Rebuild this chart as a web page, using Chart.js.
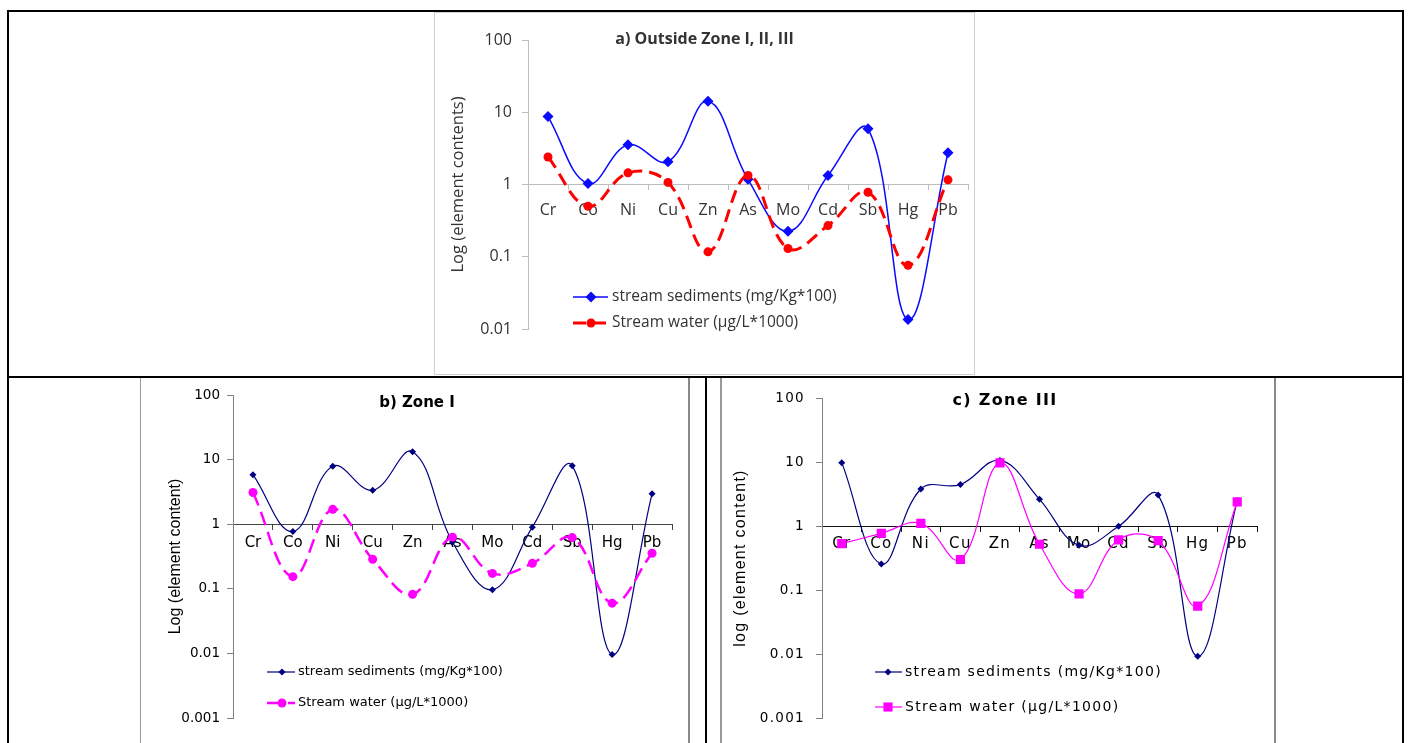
<!DOCTYPE html>
<html><head><meta charset="utf-8">
<script src="https://cdn.jsdelivr.net/npm/chart.js@4"></script>
<style>
body{margin:0;width:1410px;height:743px;position:relative;overflow:hidden;background:#fff;}
.ln{position:absolute;background:#000;}
.fr{position:absolute;box-sizing:border-box;}
canvas{position:absolute;}
</style></head><body>
<div class="ln" style="left:7px;top:10px;width:1397px;height:2px"></div>
<div class="ln" style="left:7px;top:376px;width:1397px;height:2px"></div>
<div class="ln" style="left:7px;top:10px;width:2px;height:733px"></div>
<div class="ln" style="left:1402px;top:10px;width:2px;height:733px"></div>
<div class="ln" style="left:705px;top:376px;width:2px;height:367px"></div>
<div class="fr" style="left:434px;top:12px;width:541px;height:363px;border:1px solid #d0d0d0"></div>
<div class="fr" style="left:140px;top:378px;width:550px;height:365px;border-left:1px solid #999;border-right:2px solid #888"></div>
<div class="fr" style="left:720px;top:378px;width:556px;height:365px;border-left:2px solid #999;border-right:2px solid #888"></div>
<canvas id="ca" width="539" height="361" style="left:435px;top:13px"></canvas>
<canvas id="cb" width="547" height="364" style="left:141px;top:379px"></canvas>
<canvas id="cc" width="552" height="364" style="left:722px;top:379px"></canvas>
<script>
// ---------- data ----------
const categories = ['Cr','Co','Ni','Cu','Zn','As','Mo','Cd','Sb','Hg','Pb'];
const seriesNames = ['stream sediments (mg/Kg*100)', 'Stream water (µg/L*1000)'];

const sedimentsA = [8.7, 1.03, 3.55, 2.07, 14.2, 1.18, 0.225, 1.33, 5.9, 0.0135, 2.75];
const waterA     = [2.4, 0.5, 1.45, 1.07, 0.117, 1.33, 0.13, 0.27, 0.78, 0.076, 1.16];

const sedimentsB = [5.85, 0.77, 7.9, 3.35, 13.2, 0.53, 0.097, 0.9, 8.0, 0.0096, 2.95];
const waterB     = [3.1, 0.154, 1.7, 0.287, 0.082, 0.63, 0.173, 0.248, 0.62, 0.06, 0.355];

const sedimentsC = [9.8, 0.255, 3.8, 4.45, 10.6, 2.62, 0.5, 0.99, 3.05, 0.0092, 2.5];
const waterC     = [0.53, 0.77, 1.1, 0.3, 9.7, 0.52, 0.087, 0.61, 0.59, 0.056, 2.38];

const yTicksA = [0.01, 0.1, 1, 10, 100];
const yTickLabelsA = ['0.01', '0.1', '1', '10', '100'];
const yTicksBC = [0.001, 0.01, 0.1, 1, 10, 100];
const yTickLabelsBC = ['0.001', '0.01', '0.1', '1', '10', '100'];

const titles = ['a) Outside Zone I, II, III', 'b) Zone I', 'c) Zone III'];
const yTitles = ['Log (element contents)', 'Log (element content)', 'log (element content)'];

// ---------- plugins ----------
function drawMarker(ctx, style, r, x, y, color) {
  ctx.fillStyle = color;
  ctx.beginPath();
  if (style === 'circle') {
    ctx.arc(x, y, r, 0, Math.PI * 2);
  } else if (style === 'rect') {
    const s = r * Math.SQRT1_2;
    ctx.rect(x - s, y - s, 2 * s, 2 * s);
  } else {
    ctx.moveTo(x, y - r); ctx.lineTo(x + r, y); ctx.lineTo(x, y + r); ctx.lineTo(x - r, y); ctx.closePath();
  }
  ctx.fill();
}
const inlineLegend = {
  id: 'inlineLegend',
  afterDatasetsDraw(chart, args, o) {
    const ctx = chart.ctx;
    ctx.save();
    chart.data.datasets.forEach((ds, i) => {
      const y = o.y[i];
      ctx.strokeStyle = ds.borderColor;
      ctx.lineWidth = ds.borderWidth;
      ctx.setLineDash(ds.borderDash || []);
      ctx.beginPath(); ctx.moveTo(o.x, y); ctx.lineTo(o.x + o.len, y); ctx.stroke();
      ctx.setLineDash([]);
      drawMarker(ctx, ds.pointStyle, ds.pointRadius, o.x + o.mark, y, ds.pointBackgroundColor);
      ctx.fillStyle = o.color;
      ctx.font = o.font;
      ctx.textAlign = 'left';
      ctx.textBaseline = 'middle';
      ctx.fillText(ds.label, o.x + o.len + o.gap, y);
    });
    ctx.restore();
  }
};
const spacing = {
  id: 'spacing',
  beforeDraw(chart, args, o) { if (o && o.value) chart.ctx.letterSpacing = o.value; }
};

function makeChart(id, c) {
  return new Chart(document.getElementById(id), {
    type: 'line',
    data: {
      labels: categories,
      datasets: [
        Object.assign({ label: seriesNames[0], data: c.sed, order: 1, tension: c.tension, fill: false }, c.sedStyle),
        Object.assign({ label: seriesNames[1], data: c.wat, order: 0, tension: c.tension, fill: false }, c.watStyle)
      ]
    },
    options: {
      responsive: false, animation: false, devicePixelRatio: 1,
      events: [],
      layout: { padding: { left: c.padL, right: c.padR, top: 0, bottom: c.padB } },
      plugins: {
        legend: { display: false },
        tooltip: { enabled: false },
        title: {
          display: true, text: c.title, color: c.textColor,
          font: Object.assign({ lineHeight: '2px' }, c.titleFont),
          padding: { top: c.titleTop, bottom: c.titleBottom }
        },
        inlineLegend: c.legend,
        spacing: { value: c.letterSpacing || '' }
      },
      scales: {
        x: {
          type: 'category', position: { y: 1 }, offset: true,
          grid: { offset: true, drawOnChartArea: false, drawTicks: true, tickLength: 5, color: c.xColor },
          border: { color: c.xColor, width: 1 },
          ticks: { autoSkip: false, maxRotation: 0, minRotation: 0, padding: c.xPad, font: c.xFont, color: c.textColor }
        },
        y: {
          type: 'logarithmic', min: c.yTicks[0], max: c.yTicks[c.yTicks.length - 1],
          afterFit: s => { s.width = c.yW; },
          afterBuildTicks: s => { s.ticks = c.yTicks.map(v => ({ value: v, major: true })); },
          grid: { drawOnChartArea: false, tickLength: 6, color: c.yColor },
          border: { color: c.yColor, width: 1 },
          ticks: {
            padding: c.yPad, font: c.yFont, color: c.textColor,
            callback: v => c.yLabels[c.yTicks.indexOf(v)]
          },
          title: { display: true, text: c.yTitle, color: c.textColor, font: c.yTitleFont, padding: { top: c.yTitlePad, bottom: 0 } }
        }
      }
    },
    plugins: [inlineLegend, spacing]
  });
}

// ---------- chart a ----------
makeChart('ca', {
  sed: sedimentsA, wat: waterA, tension: 0.4,
  sedStyle: { borderColor: '#0a0aff', backgroundColor: '#0a0aff', pointBackgroundColor: '#0a0aff', pointBorderColor: '#0a0aff', borderWidth: 1.5, pointStyle: 'rectRot', pointRadius: 5.5, pointBorderWidth: 0 },
  watStyle: { borderColor: '#ff0000', backgroundColor: '#ff0000', pointBackgroundColor: '#ff0000', pointBorderColor: '#ff0000', borderWidth: 3, borderDash: [13, 7], pointStyle: 'circle', pointRadius: 4.5, pointBorderWidth: 0 },
  padL: 6, padR: 6, padB: 45, yW: 87,
  title: titles[0], titleFont: { family: 'Open Sans', size: 16, weight: 'bold' }, titleTop: 25, titleBottom: 0,
  textColor: '#333333', xColor: '#bdbdbd', yColor: '#bdbdbd',
  xFont: { family: 'Open Sans', size: 16 }, xPad: 11,
  yFont: { family: 'Open Sans', size: 16 }, yPad: 10,
  yTicks: yTicksA, yLabels: yTickLabelsA,
  yTitle: yTitles[0], yTitleFont: { family: 'Open Sans', size: 16.5 }, yTitlePad: 7,
  legend: { x: 138, len: 35, mark: 18, gap: 4, y: [284, 310], color: '#333333', font: '15.5px "Open Sans"' }
});

// ---------- chart b ----------
makeChart('cb', {
  sed: sedimentsB, wat: waterB, tension: 0.4,
  sedStyle: { borderColor: '#000080', backgroundColor: '#000080', pointBackgroundColor: '#000080', pointBorderColor: '#000080', borderWidth: 1.2, pointStyle: 'rectRot', pointRadius: 3.5, pointBorderWidth: 0 },
  watStyle: { borderColor: '#ff00ff', backgroundColor: '#ff00ff', pointBackgroundColor: '#ff00ff', pointBorderColor: '#ff00ff', borderWidth: 2.5, borderDash: [14, 7], pointStyle: 'circle', pointRadius: 4.5, pointBorderWidth: 0 },
  padL: 21, padR: 16, padB: 25, yW: 71,
  title: titles[1], titleFont: { family: 'DejaVu Sans', size: 15, weight: 'bold' }, titleTop: 23, titleBottom: -9,
  textColor: '#000000', xColor: '#444444', yColor: '#808080',
  xFont: { family: 'DejaVu Sans', size: 15 }, xPad: 5,
  yFont: { family: 'DejaVu Sans', size: 13.5 }, yPad: 7,
  yTicks: yTicksBC, yLabels: yTickLabelsBC,
  yTitle: yTitles[1], yTitleFont: { family: 'Liberation Sans', size: 16 }, yTitlePad: 4.4,
  legend: { x: 126, len: 28, mark: 15, gap: 3, y: [293, 324], color: '#000000', font: '13px "DejaVu Sans"' }
});

// ---------- chart c ----------
makeChart('cc', {
  sed: sedimentsC, wat: waterC, tension: 0.4,
  sedStyle: { borderColor: '#000080', backgroundColor: '#000080', pointBackgroundColor: '#000080', pointBorderColor: '#000080', borderWidth: 1.2, pointStyle: 'rectRot', pointRadius: 3.5, pointBorderWidth: 0 },
  watStyle: { borderColor: '#ff00ff', backgroundColor: '#ff00ff', pointBackgroundColor: '#ff00ff', pointBorderColor: '#ff00ff', borderWidth: 1.2, pointStyle: 'rect', pointRadius: 6.5, pointBorderWidth: 0 },
  padL: 31, padR: 17, padB: 25, yW: 69,
  title: titles[2], titleFont: { family: 'DejaVu Sans', size: 16, weight: 'bold' }, titleTop: 18, titleBottom: -4,
  textColor: '#000000', xColor: '#111111', yColor: '#808080',
  xFont: { family: 'DejaVu Sans', size: 15 }, xPad: 4,
  yFont: { family: 'DejaVu Sans', size: 13.5 }, yPad: 11,
  yTicks: yTicksBC, yLabels: yTickLabelsBC,
  yTitle: yTitles[2], yTitleFont: { family: 'Liberation Sans', size: 16 }, yTitlePad: -21.6,
  legend: { x: 153, len: 27, mark: 13, gap: 3, y: [293, 328], color: '#000000', font: '14px "DejaVu Sans"' },
  letterSpacing: '1.3px'
});
</script>
</body></html>
